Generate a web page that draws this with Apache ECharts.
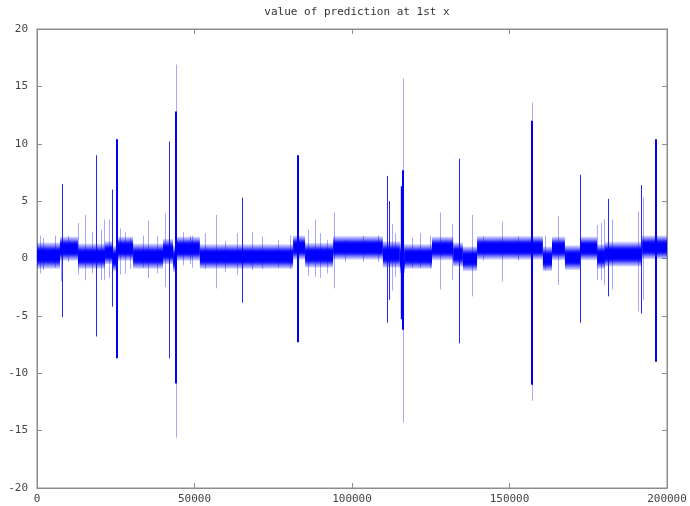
<!DOCTYPE html>
<html>
<head>
<meta charset="utf-8">
<script src="https://cdn.jsdelivr.net/npm/echarts@6/dist/echarts.min.js"></script>
<style>html,body{margin:0;padding:0;background:#fff;}#c{width:690px;height:506px;}</style>
</head>
<body>
<div id="c"></div>
<script>
// ---- data ----
var titleText = 'value of prediction at 1st x';
var xTicks = [0, 50000, 100000, 150000, 200000];
var yTicks = [-20, -15, -10, -5, 0, 5, 10, 15, 20];

// noise band: segment breaks along x, and dense-core / fringe envelopes per segment
var bandBreaks = [0, 7300, 13000, 21600, 24100, 25700, 30500, 40000, 43200, 44400, 51700, 81300, 85100, 94000, 109800, 115200, 116800, 125400, 132100, 135200, 139700, 160600, 163500, 167600, 172400, 177800, 180300, 192100, 200000];
var fringeHi = [1.4, 1.9, 1.3, 1.5, 1.1, 1.9, 1.3, 1.7, 1.1, 1.9, 1.25, 2.0, 1.35, 1.95, 1.5, 1.3, 1.25, 1.9, 1.4, 1.05, 1.95, 1.05, 1.9, 1.15, 1.9, 1.25, 1.45, 2.0];
var fringeLo = [-0.9, -0.2, -0.9, -0.5, -1.1, -0.2, -0.9, -0.5, -1.2, -0.2, -0.9, -0.1, -0.8, -0.1, -0.8, -1.3, -0.9, -0.15, -0.7, -1.1, -0.1, -1.1, -0.15, -1.0, -0.15, -0.9, -0.7, -0.05];

// strong spikes (dark)
var darkX  = [25555, 44127, 82762, 116286, 157238, 196413];
var darkHi = [10.4, 12.8, 9.0, 7.7, 12.0, 10.4];
var darkLo = [-8.7, -10.9, -7.3, -6.2, -11.0, -9.0];

// medium spikes
var midX  = [8032, 18635, 23714, 42000, 65238, 111111, 111746, 134063, 172381, 181365, 191746];
var midHi = [6.5, 9.0, 6.0, 10.2, 5.3, 7.2, 5.0, 8.7, 7.3, 5.2, 6.4];
var midLo = [-5.1, -6.8, -4.2, -8.7, -3.85, -5.6, -3.6, -7.4, -5.6, -3.3, -4.8];

// faint spikes (including the pale tips of the strongest ones)
var paleX  = [44127, 116286, 157238, 952, 1905, 5714, 7524, 9841, 13016, 15238, 17365, 20222, 21270, 22857, 26349, 27937, 29524, 33651, 35238, 38000, 40635, 46349, 48571, 49111, 53333, 56825, 59683, 63397, 68159, 71333, 76603, 80317, 86127, 88254, 89841, 91968, 94286, 97778, 103587, 108349, 112603, 113651, 118952, 121587, 124762, 127937, 131651, 138000, 141683, 147524, 152794, 161270, 165302, 177683, 179048, 180095, 182444, 190937, 192381];
var paleHi = [16.9, 15.7, 13.6, 2.0, 1.8, 2.0, 1.5, 2.0, 3.1, 3.8, 2.3, 2.5, 3.4, 3.4, 2.6, 2.3, 1.8, 2.0, 3.3, 2.0, 3.9, 2.3, 2.0, 2.0, 2.2, 3.8, 1.5, 2.2, 2.3, 1.9, 1.6, 2.0, 2.5, 3.4, 2.2, 1.6, 4.0, 1.6, 2.0, 2.0, 3.0, 2.2, 1.8, 2.2, 2.0, 4.0, 3.0, 3.8, 1.9, 3.2, 1.9, 2.0, 3.7, 2.9, 3.1, 3.4, 3.4, 4.1, 5.3];
var paleLo = [-15.6, -14.3, -12.4, -1.3, -1.0, -0.8, -2.0, -0.3, -1.4, -1.9, -1.3, -1.9, -1.9, -1.7, -1.4, -1.3, -0.9, -0.8, -1.7, -1.3, -2.5, -0.6, -0.5, -0.8, -0.9, -2.6, -1.2, -1.4, -1.0, -0.9, -0.8, -0.9, -1.5, -1.6, -1.7, -1.3, -2.6, -0.3, -0.3, -0.3, -2.8, -1.6, -0.8, -0.8, -0.8, -2.7, -1.9, -3.3, -0.2, -2.0, -0.2, -1.0, -2.3, -1.9, -1.9, -2.3, -2.7, -4.6, -3.6];

// dense burst around x = 116000
var burstStart = [115500];
var burstEnd   = [116500];
var burstHi    = [6.3];
var burstLo    = [-5.3];

// ---- build series data ----
function bandData(hi, lo) {
  var out = [];
  for (var i = 0; i < hi.length; i++) out.push([bandBreaks[i], bandBreaks[i + 1], lo[i], hi[i]]);
  return out;
}
function spikeData(xs, hi, lo) {
  var out = [];
  for (var i = 0; i < xs.length; i++) out.push([xs[i], lo[i], hi[i]]);
  return out;
}
var burstData = [];
for (var i = 0; i < burstStart.length; i++) burstData.push([burstStart[i], burstEnd[i], burstLo[i], burstHi[i]]);

var bandFill = new echarts.graphic.LinearGradient(0, 0, 0, 1, [
  { offset: 0.0, color: 'rgba(0,0,255,0.12)' },
  { offset: 0.12, color: 'rgba(0,0,255,0.45)' },
  { offset: 0.26, color: 'rgba(0,0,255,0.9)' },
  { offset: 0.34, color: 'rgba(0,0,255,1)' },
  { offset: 0.66, color: 'rgba(0,0,255,1)' },
  { offset: 0.74, color: 'rgba(0,0,255,0.9)' },
  { offset: 0.88, color: 'rgba(0,0,255,0.45)' },
  { offset: 1.0, color: 'rgba(0,0,255,0.12)' }
]);

function rectRenderer(fill) {
  return function (params, api) {
    var a = api.coord([api.value(0), api.value(3)]);
    var b = api.coord([api.value(1), api.value(2)]);
    return { type: 'rect', shape: { x: a[0], y: a[1], width: b[0] - a[0], height: b[1] - a[1] }, style: { fill: fill } };
  };
}
function lineRenderer(stroke, width) {
  return function (params, api) {
    var a = api.coord([api.value(0), api.value(2)]);
    var b = api.coord([api.value(0), api.value(1)]);
    var x = Math.round(a[0]) + (width % 2 ? 0.5 : 0);
    return { type: 'line', shape: { x1: x, y1: a[1], x2: x, y2: b[1] }, style: { stroke: stroke, lineWidth: width } };
  };
}

var axisGrey = '#8c8c8c';
var labelStyle = { color: '#444', fontFamily: 'DejaVu Sans Mono', fontSize: 11, formatter: function (v) { return String(v); } };

var chart = echarts.init(document.getElementById('c'), null, { renderer: 'canvas' });
chart.setOption({
  animation: false,
  backgroundColor: '#fff',
  title: {
    text: titleText, left: 352, top: 2, textAlign: 'center',
    textStyle: { fontFamily: 'DejaVu Sans Mono', fontSize: 11, fontWeight: 'normal', color: '#333' }
  },
  grid: { left: 37, right: 23, top: 29, bottom: 18, show: true, borderColor: axisGrey, borderWidth: 1, backgroundColor: 'transparent' },
  xAxis: [
    { type: 'value', position: 'bottom', min: xTicks[0], max: xTicks[xTicks.length - 1], interval: xTicks[1] - xTicks[0],
      axisLine: { show: true, onZero: false, lineStyle: { color: axisGrey } },
      axisTick: { show: true, inside: true, length: 5, lineStyle: { color: axisGrey } },
      axisLabel: Object.assign({ margin: 6 }, labelStyle), splitLine: { show: false } },
    { type: 'value', position: 'top', min: xTicks[0], max: xTicks[xTicks.length - 1], interval: xTicks[1] - xTicks[0],
      axisLine: { show: true, onZero: false, lineStyle: { color: axisGrey } },
      axisTick: { show: true, inside: true, length: 5, lineStyle: { color: axisGrey } },
      axisLabel: { show: false }, splitLine: { show: false } }
  ],
  yAxis: [
    { type: 'value', position: 'left', min: yTicks[0], max: yTicks[yTicks.length - 1], interval: yTicks[1] - yTicks[0],
      axisLine: { show: true, onZero: false, lineStyle: { color: axisGrey } },
      axisTick: { show: true, inside: true, length: 5, lineStyle: { color: axisGrey } },
      axisLabel: Object.assign({ margin: 9 }, labelStyle), splitLine: { show: false } },
    { type: 'value', position: 'right', min: yTicks[0], max: yTicks[yTicks.length - 1], interval: yTicks[1] - yTicks[0],
      axisLine: { show: true, onZero: false, lineStyle: { color: axisGrey } },
      axisTick: { show: true, inside: true, length: 5, lineStyle: { color: axisGrey } },
      axisLabel: { show: false }, splitLine: { show: false } }
  ],
  series: [
    { type: 'custom', name: 'pale', clip: true, renderItem: lineRenderer('rgba(60,60,255,0.45)', 1), encode: { x: 0, y: [1, 2] }, data: spikeData(paleX, paleHi, paleLo) },
    { type: 'custom', name: 'band', clip: true, renderItem: rectRenderer(bandFill), encode: { x: [0, 1], y: [2, 3] }, data: bandData(fringeHi, fringeLo) },
    { type: 'custom', name: 'mid', clip: true, renderItem: lineRenderer('rgba(0,0,255,0.85)', 1), encode: { x: 0, y: [1, 2] }, data: spikeData(midX, midHi, midLo) },
    { type: 'custom', name: 'dark', clip: true, renderItem: lineRenderer('#0000ff', 2), encode: { x: 0, y: [1, 2] }, data: spikeData(darkX, darkHi, darkLo) },
    { type: 'custom', name: 'burst', clip: true, renderItem: rectRenderer('#0000ff'), encode: { x: [0, 1], y: [2, 3] }, data: burstData }
  ]
});
</script>
</body>
</html>
